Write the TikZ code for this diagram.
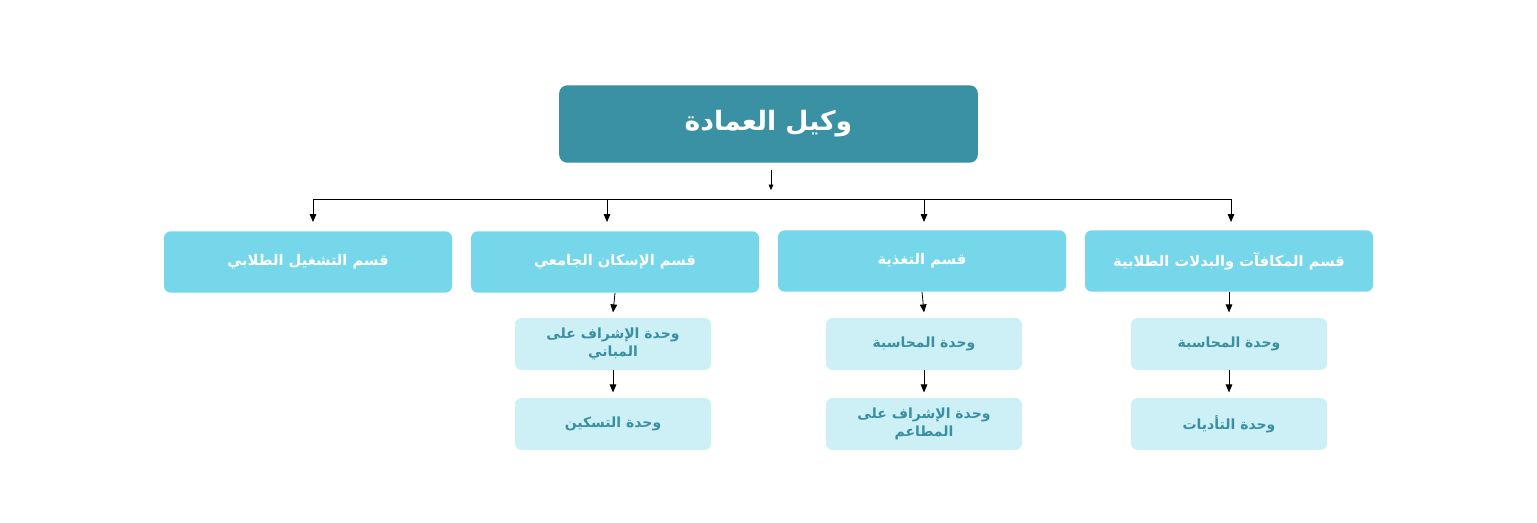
\documentclass[tikz,border=0pt]{standalone}
\usepackage{fontspec}
\newfontfamily\ar[Script=Arabic]{DejaVu Sans}
\usetikzlibrary{arrows.meta}
\definecolor{top}{HTML}{3A91A3}
\definecolor{dept}{HTML}{77D7EA}
\definecolor{unit}{HTML}{CDEFF6}
\definecolor{utext}{HTML}{3A8FA0}
\TeXXeTstate=1
\newcommand{\AR}[1]{\beginR #1\endR}
\begin{document}
\begin{tikzpicture}[x=0.75pt,y=-0.75pt,
 topbox/.style={fill=top,rounded corners=6pt,minimum width=314pt,minimum height=58pt,text=white,font=\ar\bfseries\fontsize{20}{24}\selectfont},
 deptbox/.style={fill=dept,rounded corners=5pt,minimum width=216pt,minimum height=46pt,text=white,font=\ar\bfseries\fontsize{11}{13}\selectfont},
 unitbox/.style={fill=unit,rounded corners=5pt,minimum width=147pt,minimum height=39pt,text=utext,align=center,font=\ar\bfseries\fontsize{10.5}{14}\selectfont},
 arr/.style={-{Triangle[length=6pt,width=5pt]},black,line width=0.6pt}]
\useasboundingbox (0,0) rectangle (1537,522);
\fill[white] (0,0) rectangle (1537,522);
\node[topbox] (t) at (768.5,124) {\AR{وكيل العمادة}};
\node[deptbox] (d1) at (1229,261) {\AR{قسم المكافآت والبدلات الطلابية}};
\node[deptbox] (d2) at (922,261) {\AR{قسم التغذية}};
\node[deptbox] (d3) at (615,262) {\AR{قسم الإسكان الجامعي}};
\node[deptbox] (d4) at (308,262) {\AR{قسم التشغيل الطلابي}};
\node[unitbox] (u11) at (1229,344) {\AR{وحدة المحاسبة}};
\node[unitbox] (u12) at (1229,424) {\AR{وحدة التأديات}};
\node[unitbox] (u21) at (924,344) {\AR{وحدة المحاسبة}};
\node[unitbox] (u22) at (924,424) {\AR{وحدة الإشراف على}\\\AR{المطاعم}};
\node[unitbox] (u31) at (613,344) {\AR{وحدة الإشراف على}\\\AR{المباني}};
\node[unitbox] (u32) at (613,424) {\AR{وحدة التسكين}};
\coordinate (j) at (771,199);
\draw[arr,line width=0.4pt,-{Triangle[length=4pt,width=3.5pt]}] (771,170) -- (771,190);
\draw[line width=0.6pt] (313,199) -- (1231,199);
\foreach \x/\n in {313/d4,607/d3,924/d2,1231/d1}
  \draw[arr] (\x,199) -- (\x,222);
\foreach \a/\b in {d1/u11,u11/u12,d2/u21,u21/u22,d3/u31,u31/u32}
  \draw[arr] (\a.south) ++(0,0) -- ([yshift=4pt]\b.north);
\end{tikzpicture}
\end{document}
